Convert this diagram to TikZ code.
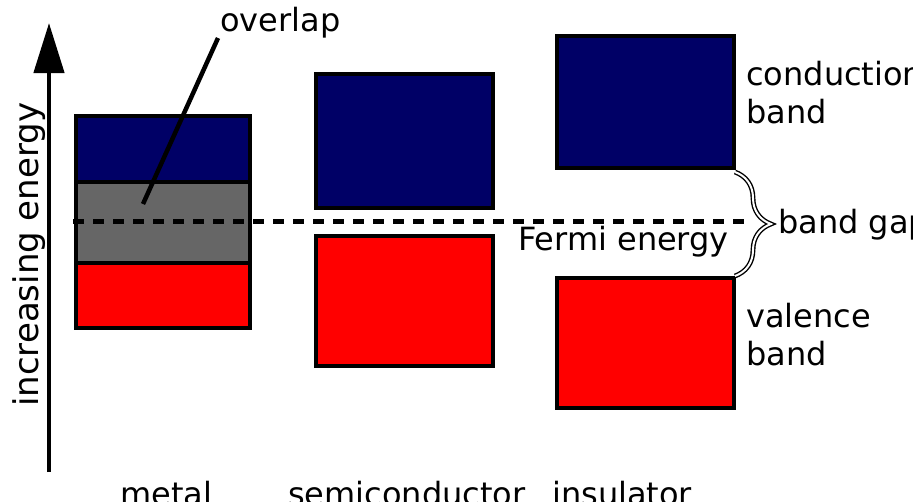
\documentclass[tikz,border=0pt]{standalone}
\usepackage{fontspec}
\setmainfont{DejaVu Sans}
\usetikzlibrary{arrows.meta,decorations.pathreplacing}
\definecolor{navy}{RGB}{0,0,102}
\definecolor{bandred}{RGB}{255,0,0}
\definecolor{overgray}{RGB}{102,102,102}
\begin{document}
\begin{tikzpicture}[x=1pt,y=-1pt,
  bandbox/.style={draw=black,line width=4.5pt,minimum width=174pt,inner sep=0pt,outer sep=0pt},
  lbl/.style={font=\fontsize{32}{38}\selectfont,inner sep=0pt,anchor=base west,align=left},
  vlbl/.style={font=\fontsize{34}{40}\selectfont,inner sep=0pt,anchor=base west,rotate=90},
  thickline/.style={line width=4.5pt},
  fermi/.style={line width=5pt,dash pattern=on 11pt off 9pt},
  gapbrace/.style={decorate,decoration={brace,amplitude=36pt},draw=black,line width=1.4pt,double=white,double distance=2pt}
  ]
\useasboundingbox (0,0) rectangle (913,501);
% metal
\node[bandbox,fill=navy,minimum height=66pt] (mcb) at (163,149) {};
\node[bandbox,fill=overgray,minimum height=81pt] (mov) at (163,222.5) {};
\node[bandbox,fill=bandred,minimum height=65pt] (mvb) at (163,295.5) {};
% semiconductor
\node[bandbox,fill=navy,minimum width=177pt,minimum height=134pt] (scb) at (404.5,141) {};
\node[bandbox,fill=bandred,minimum width=177pt,minimum height=130pt] (svb) at (404.5,301) {};
% insulator
\node[bandbox,fill=navy,minimum width=177pt,minimum height=132pt] (icb) at (645.5,102) {};
\node[bandbox,fill=bandred,minimum width=177pt,minimum height=130pt] (ivb) at (645.5,343) {};
% energy axis
\coordinate (axb) at (49,472);
\coordinate (axt) at (49,23);
\draw[thickline,-{Triangle[length=50pt,width=30pt]}] (axb) -- (axt);
\node[vlbl] (axlbl) at (38,407) {increasing energy};
% Fermi level
\coordinate (fa) at (73,221);
\coordinate (fb) at (745,221);
\draw[fermi] (fa) -- (fb);
\node[lbl] (fermilbl) at (518,250) {Fermi energy};
% overlap
\node[lbl] (ovlbl) at (220,31) {overlap};
\coordinate (ov1) at (218,38);
\coordinate (ov2) at (143,204);
\draw[thickline] (ov1) -- (ov2);
% band gap brace
\coordinate (bg1) at (735,172);
\coordinate (bg2) at (735,276);
\draw[gapbrace] (bg1) -- (bg2);
\node[lbl] (bglbl) at (778,233) {band gap};
% side labels
\node[lbl] (cblbl) at (746,123) {conduction\\band};
\node[lbl] (vblbl) at (746,365) {valence\\band};
% bottom labels
\node[lbl] (metal) at (120,505) {metal};
\node[lbl] (semi) at (288,505) {semiconductor};
\node[lbl] (ins) at (552,505) {insulator};
\end{tikzpicture}
\end{document}
